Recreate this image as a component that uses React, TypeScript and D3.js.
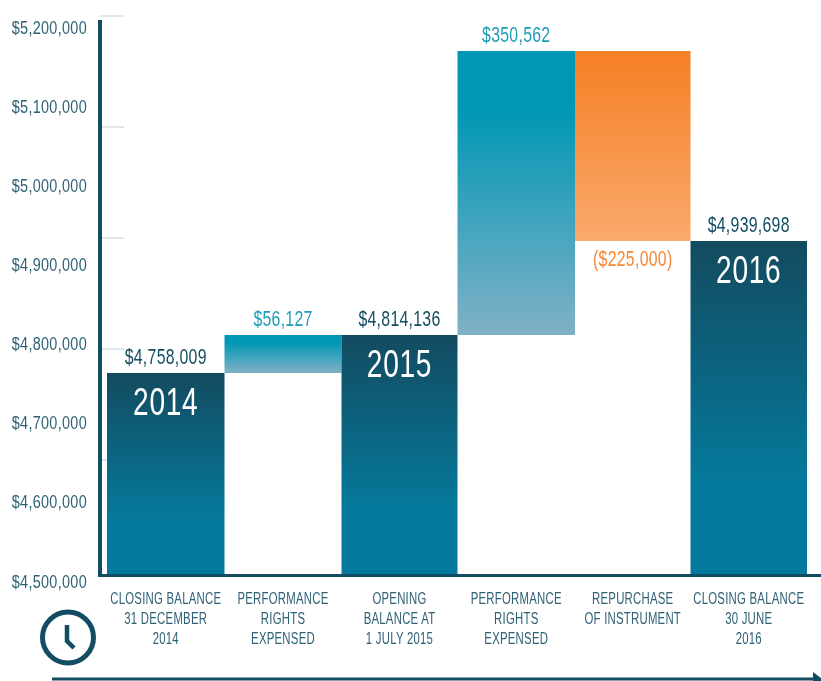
import React from "react";
import * as d3 from "d3";

const categories = [
  ["CLOSING BALANCE", "31 DECEMBER", "2014"],
  ["PERFORMANCE", "RIGHTS", "EXPENSED"],
  ["OPENING", "BALANCE AT", "1 JULY 2015"],
  ["PERFORMANCE", "RIGHTS", "EXPENSED"],
  ["REPURCHASE", "OF INSTRUMENT"],
  ["CLOSING BALANCE", "30 JUNE", "2016"],
];
const barStarts = [4500000, 4758009, 4500000, 4814136, 5164698, 4500000];
const barEnds = [4758009, 4814136, 4814136, 5164698, 4939698, 4939698];
const barKinds = ["total", "up", "total", "up", "down", "total"];
const valueLabels = ["$4,758,009", "$56,127", "$4,814,136", "$350,562", "($225,000)", "$4,939,698"];
const yearLabels = ["2014", "", "2015", "", "", "2016"];
const tickValues = [4500000, 4600000, 4700000, 4800000, 4900000, 5000000, 5100000, 5200000];
const gridIndex = [0, 1, 2, 3, 4];

const FONT = "'Liberation Sans', sans-serif";
const DARK = "#134d63";
const TEXT = "#2f6176";

// The source artwork's bars are not strictly to scale, so the scale is piecewise.
const y = d3.scaleLinear()
  .domain([4500000, 4758009, 4814136, 4939698, 5164698])
  .range([574, 373, 335, 241, 51]);
const labelY = d3.scaleLinear().domain([4500000, 5200000]).range([581, 27]);
const gridY = d3.scaleLinear().domain([0, 4]).range([16, 460]);
const x = d3.scaleLinear().domain([0, 1, 2, 3, 4, 5, 6]).range([107, 224.5, 341.5, 457.5, 575, 690.5, 807]);

const fills: Record<string, string> = { total: "url(#gTotal)", up: "url(#gUp)", down: "url(#gDown)" };
const labelColor: Record<string, string> = { total: DARK, up: "#1f9db8", down: "#f58634" };

// Reference type is a condensed face: none is installed, so squeeze horizontally.
function Narrow({ x: tx, y: ty, sx, size, fill, spacing = 0, anchor = "middle", children }: any) {
  return (
    <text transform={`translate(${tx},${ty}) scale(${sx},1)`} textAnchor={anchor} fontSize={size} fill={fill} letterSpacing={spacing}>
      {children}
    </text>
  );
}

export default function App() {
  return (
    <svg width={821} height={681} style={{ position: "fixed", left: 0, top: 0, fontFamily: FONT }}>
      <defs>
        <linearGradient id="gTotal" x1="0" y1="0" x2="0" y2="1">
          <stop offset="0" stopColor="#134b60" />
          <stop offset="0.72" stopColor="#05799b" />
        </linearGradient>
        <linearGradient id="gUp" x1="0" y1="0" x2="0" y2="1">
          <stop offset="0.2" stopColor="#0097b5" />
          <stop offset="1" stopColor="#80b1c6" />
        </linearGradient>
        <linearGradient id="gDown" x1="0" y1="0" x2="0" y2="1">
          <stop offset="0" stopColor="#f57f25" />
          <stop offset="1" stopColor="#faa96c" />
        </linearGradient>
      </defs>

      {gridIndex.map((g) => (
        <line key={g} x1={100} x2={124} y1={gridY(g)} y2={gridY(g)} stroke="#bccfd9" strokeWidth={1} />
      ))}

      {tickValues.map((t) => (
        <Narrow key={t} x={87} y={labelY(t) + 6.5} sx={0.76} size={19} spacing={0.4} fill={TEXT} anchor="end">
          {d3.format("$,")(t)}
        </Narrow>
      ))}

      {barStarts.map((s, i) => {
        const top = Math.min(y(s), y(barEnds[i]));
        const bottom = Math.max(y(s), y(barEnds[i]));
        const x0 = x(i);
        const x1 = x(i + 1);
        const cx = (x0 + x1) / 2;
        const kind = barKinds[i];
        const labelBaseline = kind === "down" ? bottom + 25 : top - 9;
        return (
          <g key={i}>
            <rect x={x0} y={top} width={x1 - x0} height={bottom - top} fill={fills[kind]} />
            <Narrow x={cx} y={labelBaseline} sx={0.72} size={22} spacing={0.4} fill={labelColor[kind]}>
              {valueLabels[i]}
            </Narrow>
            {yearLabels[i] && (
              <Narrow x={cx} y={top + 42} sx={0.74} size={38} spacing={1} fill="#ffffff">
                {yearLabels[i]}
              </Narrow>
            )}
            {categories[i].map((line, j) => (
              <Narrow key={j} x={cx} y={604 + j * 20} sx={0.67} size={17} spacing={0.35} fill={TEXT}>
                {line}
              </Narrow>
            ))}
          </g>
        );
      })}

      <line x1={100} x2={100} y1={20} y2={577} stroke={DARK} strokeWidth={4} />
      <line x1={98} x2={821} y1={575.5} y2={575.5} stroke={DARK} strokeWidth={3} />

      <circle cx={68} cy={637.5} r={25.5} fill="none" stroke={DARK} strokeWidth={5} />
      <path d="M67 625 V641 L74 648" fill="none" stroke={DARK} strokeWidth={4.5} />

      <line x1={52} x2={814} y1={679} y2={679} stroke={DARK} strokeWidth={3} />
      <path d="M813 672 L821 678 L821 681 L813 681 Z" fill={DARK} />
    </svg>
  );
}
